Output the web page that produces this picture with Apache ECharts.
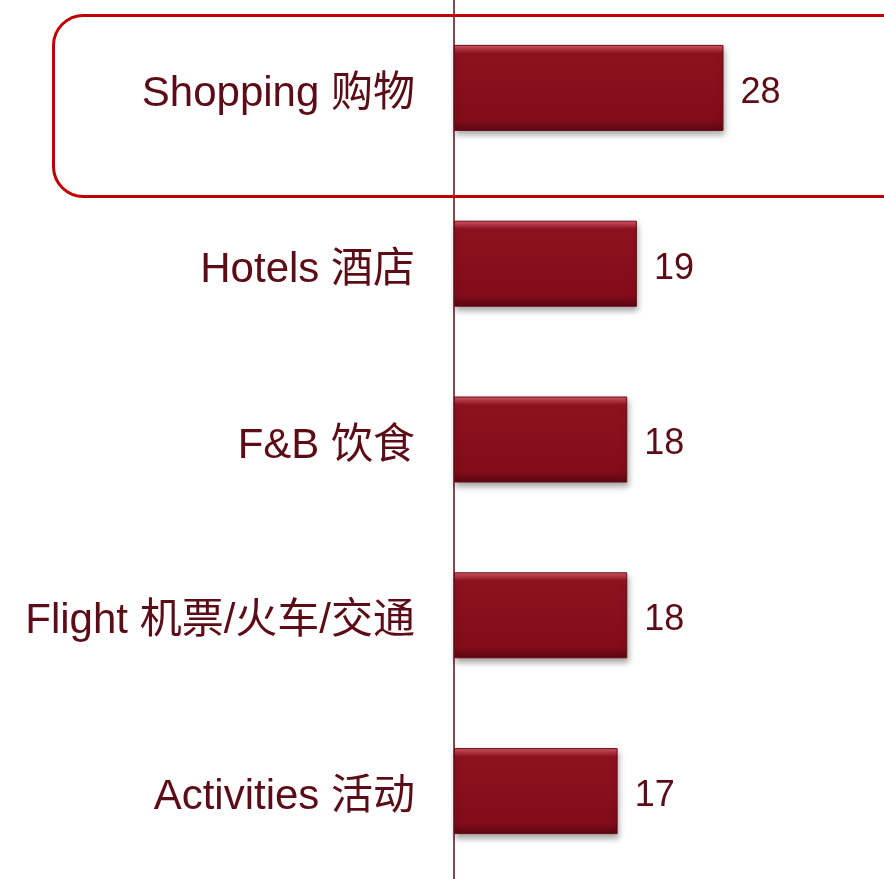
<!DOCTYPE html>
<html><head><meta charset="utf-8">
<script src="https://cdn.jsdelivr.net/npm/echarts@6/dist/echarts.min.js"></script>
<style>html,body{margin:0;padding:0;background:#fff}#c{width:884px;height:879px}</style>
</head><body><div id="c"></div>
<script>
const categories = ['Shopping 购物', 'Hotels 酒店', 'F&B 饮食', 'Flight 机票/火车/交通', 'Activities 活动'];
const values = [28, 19, 18, 18, 17];

const chart = echarts.init(document.getElementById('c'), null, {renderer: 'canvas'});
const textColor = '#5b0c16';
const font = 'Liberation Sans, Arial, "Noto Sans CJK SC", sans-serif';
chart.setOption({
  animation: false,
  backgroundColor: '#fff',
  grid: {left: 454, right: 45, top: 0, bottom: -3, containLabel: false},
  xAxis: {type: 'value', min: 0, max: 40, show: false},
  yAxis: {
    type: 'category', data: categories, inverse: true,
    axisLine: {show: true, lineStyle: {color: '#5b0c16', width: 1.5}},
    axisTick: {show: false},
    axisLabel: {margin: 39, formatter: v => '{a|' + v + '}',
      rich: {a: {color: textColor, fontSize: 42, fontFamily: font, padding: [13, 0, 0, 0]}}}
  },
  series: [{
    type: 'bar', data: values, barWidth: 86,
    itemStyle: {
      color: {type: 'linear', x: 0, y: 0, x2: 0, y2: 1, colorStops: [
        {offset: 0, color: '#d85a66'},
        {offset: 0.1, color: '#8e1220'},
        {offset: 0.88, color: '#820c1a'},
        {offset: 1, color: '#5a0610'}
      ]},
      borderColor: '#6a0a14', borderWidth: 1,
      shadowBlur: 6, shadowOffsetY: 4, shadowOffsetX: 1, shadowColor: 'rgba(0,0,0,0.35)'
    },
    label: {show: true, position: 'right', distance: 17, color: textColor, fontSize: 36, offset: [0, 5],
      fontFamily: 'Liberation Sans, Arial, sans-serif'}
  }],
  graphic: [{
    type: 'rect', left: 51, top: 13, z: 100,
    shape: {width: 860, height: 181, r: 30},
    style: {fill: 'none', stroke: '#c00000', lineWidth: 3}
  }]
});
</script></body></html>
